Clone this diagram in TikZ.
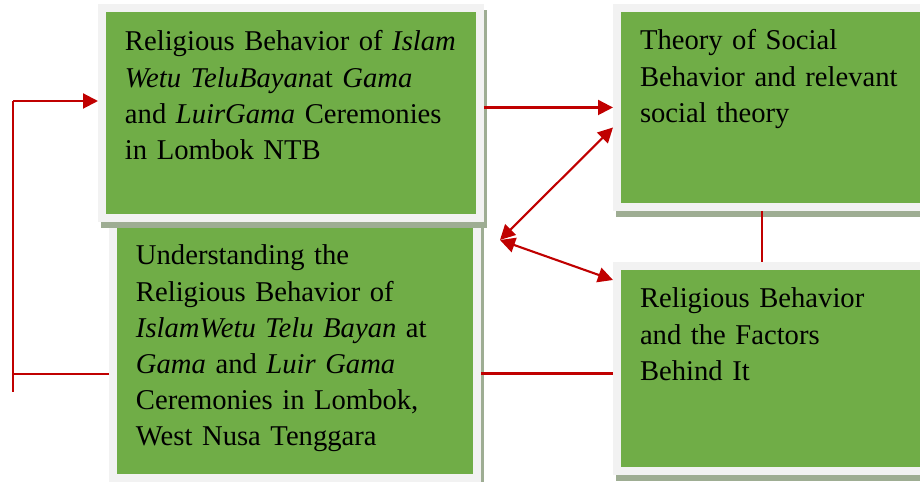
\documentclass[tikz,border=0pt]{standalone}
\usepackage{fontspec}
\setmainfont{Liberation Serif}
\usetikzlibrary{arrows.meta}
\usetikzlibrary{shadows}

\definecolor{boxgreen}{HTML}{70AD47}
\definecolor{boxrim}{HTML}{F2F2F2}
\definecolor{rimshadow}{HTML}{9EAD93}
\definecolor{linkred}{HTML}{C00000}

\tikzset{
    greenbox/.style={draw=boxrim, fill=boxgreen, line width=0.16cm, anchor=north west,
        align=left, inner xsep=0.46cm, inner ysep=0pt,
        font=\fontsize{16.3pt}{20.5pt}\selectfont,
        drop shadow={shadow xshift=0.06cm, shadow yshift=-0.12cm, draw=rimshadow,
            fill=rimshadow, line width=0.16cm, opacity=1}},
    link/.style={draw=linkred, line width=1.2pt},
    redtip/.style={-{Triangle[length=0.3cm, width=0.3cm]}},
    twotips/.style={{Triangle[length=0.3cm, width=0.3cm]}-{Triangle[length=0.3cm, width=0.3cm]}}
}

\begin{document}
\begin{tikzpicture}[x=0.02cm, y=-0.02cm]
    \useasboundingbox (0,0) rectangle (920,482);

    % Boxes (the lower left one first, so the upper one covers its top)
    \node (understanding) [greenbox, text width=6.36cm, text height=0.94cm, text depth=4.26cm] at (109,214)
        {Understanding the\\Religious Behavior of\\\textit{IslamWetu Telu Bayan} at\\\textit{Gama} and \textit{Luir Gama}\\Ceremonies in Lombok,\\West Nusa Tenggara};
    \node (ceremonies) [greenbox, text width=6.64cm, text height=0.86cm, text depth=3.34cm] at (98,4)
        {Religious Behavior of \textit{Islam}\\\textit{Wetu TeluBayan}at \textit{Gama}\\and \textit{LuirGama} Ceremonies\\in Lombok NTB};
    \node (theory) [greenbox, text width=5.5cm, text height=0.84cm, text depth=3.14cm] at (613,4)
        {Theory of Social\\Behavior and relevant\\social theory};
    \node (factors) [greenbox, text width=5.5cm, text height=0.84cm, text depth=3.26cm] at (613,262)
        {Religious Behavior\\and the Factors\\Behind It};

    % Points where the lines turn or meet
    \coordinate (looptop) at (13,101);
    \coordinate (loopjoin) at (13,374);
    \coordinate (loopend) at (13,392);
    \coordinate (meet) at (500,240);
    \coordinate (lowlink) at ([yshift=-0.1cm]factors.west);

    % Connectors
    \draw[link] (loopend) -- (looptop);
    \draw[link] (loopjoin -| understanding.west) -- (loopjoin);
    \draw[link, redtip] (looptop) -- (looptop -| ceremonies.west);
    \draw[link, redtip] (ceremonies.east |- theory.west) -- (theory.west);
    \draw[link, twotips] (meet) -- ([yshift=-0.4cm]theory.west);
    \draw[link, twotips] (meet) -- ([yshift=-0.36cm]factors.north west);
    \draw[link] ([xshift=2.98cm]theory.south west) -- ([xshift=2.98cm]factors.north west);
    \draw[link] (lowlink -| understanding.east) -- (lowlink);
\end{tikzpicture}
\end{document}
